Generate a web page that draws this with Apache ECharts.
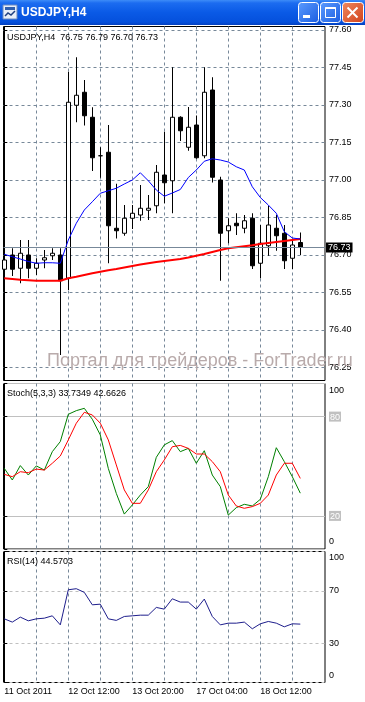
<!DOCTYPE html>
<html><head><meta charset="utf-8">
<script src="https://cdn.jsdelivr.net/npm/echarts@6/dist/echarts.min.js"></script>
<style>html,body{margin:0;padding:0;background:#fff;}#c{width:365px;height:702px;}</style>
</head><body><div id="c"></div>
<script>
const categories = ['11 Oct 04:00','11 Oct 08:00','11 Oct 12:00','11 Oct 16:00','11 Oct 20:00','12 Oct 00:00','12 Oct 04:00','12 Oct 08:00',
  '12 Oct 12:00','12 Oct 16:00','12 Oct 20:00','13 Oct 00:00','13 Oct 04:00','13 Oct 08:00','13 Oct 12:00','13 Oct 16:00',
  '13 Oct 20:00','14 Oct 00:00','14 Oct 04:00','14 Oct 08:00','14 Oct 12:00','14 Oct 16:00','14 Oct 20:00','17 Oct 00:00',
  '17 Oct 04:00','17 Oct 08:00','17 Oct 12:00','17 Oct 16:00','17 Oct 20:00','18 Oct 00:00','18 Oct 04:00','18 Oct 08:00',
  '18 Oct 12:00','18 Oct 16:00','18 Oct 20:00','19 Oct 00:00','19 Oct 04:00','19 Oct 08:00'];
const openP  = [76.643,76.700,76.647,76.700,76.647,76.680,76.697,76.700,76.607,77.299,77.351,77.251,77.097,77.111,76.807,76.787,
  76.847,76.860,76.879,76.897,77.020,76.997,77.251,77.131,77.220,77.097,77.360,77.000,76.797,76.827,76.807,76.847,
  76.667,76.737,76.807,76.787,76.687,76.75];
const highP  = [76.690,76.727,76.760,76.760,76.687,76.720,76.727,76.727,77.433,77.491,77.400,77.291,77.131,77.220,76.985,76.900,
  76.900,76.980,76.940,77.060,77.193,77.451,77.255,77.292,77.258,77.451,77.411,77.013,76.847,76.867,76.860,76.867,
  76.820,76.897,76.860,76.820,76.760,76.79];
const lowP   = [76.620,76.616,76.587,76.607,76.620,76.647,76.680,76.300,76.560,77.231,77.218,77.036,77.009,76.667,76.766,76.777,
  76.804,76.837,76.840,76.867,76.907,76.867,77.156,77.117,77.085,77.087,76.990,76.597,76.747,76.780,76.787,76.644,
  76.607,76.697,76.717,76.644,76.644,76.70];
const closeP = [76.680,76.643,76.707,76.647,76.667,76.689,76.707,76.597,77.311,77.339,77.257,77.089,77.097,76.817,76.797,76.847,
  76.867,76.887,76.887,77.031,76.989,77.251,77.197,77.211,77.089,77.351,77.011,76.787,76.817,76.817,76.837,76.657,
  76.747,76.820,76.777,76.677,76.740,76.73];
const maFast = [76.703,76.693,76.684,76.674,76.667,76.669,76.669,76.667,76.760,76.827,76.880,76.913,76.947,76.957,76.967,76.984,
  77.000,77.029,76.997,76.960,76.935,76.948,76.962,77.010,77.040,77.075,77.085,77.080,77.072,77.053,77.040,76.973,
  76.930,76.900,76.867,76.793,76.768,76.764];
const maSlow = [76.607,76.604,76.601,76.599,76.597,76.597,76.597,76.597,76.607,76.613,76.620,76.627,76.633,76.639,76.644,76.650,
  76.656,76.662,76.667,76.672,76.676,76.680,76.684,76.690,76.697,76.704,76.712,76.720,76.727,76.731,76.735,76.739,
  76.744,76.748,76.752,76.756,76.760,76.764];
const stochMain = [48.7,41.7,50.4,44.7,50.2,47.7,58.8,64.9,81.4,83.6,85.0,78.4,68.9,48.7,33.6,21.1,
  26.6,32.6,37.7,55.4,62.9,65.5,58.8,60.8,51.8,59.4,44.7,37.7,20.5,25.0,27.0,26.0,
  30.0,43.7,61.2,52.8,43.7,33.7349];
const stochSignal = [45.1,43.7,46.7,46.1,48.3,47.7,51.8,56.2,65.9,76.0,82.6,81.0,76.0,65.9,50.8,35.7,
  27.6,27.6,35.7,46.7,53.8,61.8,62.6,60.8,57.4,57.4,52.8,46.7,32.6,26.0,24.6,25.6,
  27.6,32.6,44.7,51.8,51.8,42.6626];
const rsi = [48.6,46.1,49.9,47.1,48.6,49.1,50.9,44.0,70.8,71.6,68.8,59.3,59.8,48.6,47.4,50.4,
  50.9,51.4,51.4,57.3,56.0,63.9,61.4,61.4,56.0,63.7,50.4,44.0,45.3,45.3,46.1,41.0,
  44.8,46.6,45.3,42.5,44.8,44.5703];
const priceTicks = [76.25,76.40,76.55,76.70,76.85,77.00,77.15,77.30,77.45,77.60];
const timeTickIndex = [0,8,16,24,32];
const timeTickLabels = ['11 Oct 2011','12 Oct 12:00','13 Oct 20:00','17 Oct 04:00','18 Oct 12:00'];
const vGridIndex = [4,8,12,16,20,24,28,32,36];
const stochTicks = [0,20,80,100];
const rsiTicks = [0,30,70,100];
const lastPrice = 76.73;
const symbolTitle = 'USDJPY,H4';
const priceHeader = 'USDJPY,H4  76.75 76.79 76.70 76.73';
const stochHeader = 'Stoch(5,3,3) 33.7349 42.6626';
const rsiHeader = 'RSI(14) 44.5703';
const watermark = 'Портал для трейдеров - ForTrader.ru';

const FONT = '"Liberation Sans", Arial, sans-serif';
const GRIDC = '#778899';
const xMin = -0.1, xMax = 40.0875;

function xAxisFor(gi, showLabels) {
  return {
    type: 'value', gridIndex: gi, min: xMin, max: xMax,
    axisLine: {show: false},
    axisTick: {show: false, customValues: vGridIndex},
    splitLine: {show: true, lineStyle: {color: GRIDC, width: 1, type: [3, 3]}},
    axisLabel: {
      show: showLabels, customValues: timeTickIndex, align: 'left', margin: 5,
      fontFamily: FONT, fontSize: 9, color: '#000',
      formatter: v => timeTickLabels[timeTickIndex.indexOf(Math.round(v))]
    }
  };
}
const edgeRich = {
  lv: {backgroundColor: '#C0C0C0', color: '#fff', fontFamily: FONT, fontSize: 9, padding: [1, 1, 0, 1]}
};
function levelFormatter(withBg) {
  return v => {
    if (v === 100) return '\n100';
    if (v === 0) return '0\n';
    return withBg ? '{lv|' + v + '}' : String(v);
  };
}

const chart = echarts.init(document.getElementById('c'), null, {renderer: 'canvas', width: 365, height: 702});
const option = {
  animation: false,
  backgroundColor: '#fff',
  textStyle: {fontFamily: FONT},
  grid: [
    {left: 3.5, top: 26.5, width: 321.5, height: 354, show: true, backgroundColor: '#fff', borderColor: '#000', borderWidth: 1},
    {left: 3.5, top: 383.5, width: 321.5, height: 165.5, show: true, backgroundColor: '#fff', borderColor: '#000', borderWidth: 1},
    {left: 3.5, top: 551.5, width: 321.5, height: 131, show: true, backgroundColor: '#fff', borderColor: '#000', borderWidth: 1}
  ],
  xAxis: [xAxisFor(0, false), xAxisFor(1, false), xAxisFor(2, true)],
  yAxis: [
    {
      type: 'value', gridIndex: 0, position: 'right', min: 76.198, max: 77.614,
      axisLine: {show: true, lineStyle: {color: '#000'}},
      axisTick: {show: true, length: 3, customValues: priceTicks, lineStyle: {color: '#000'}},
      axisLabel: {customValues: priceTicks, margin: 4, fontFamily: FONT, fontSize: 9, color: '#000', formatter: v => v.toFixed(2)},
      splitLine: {show: true, lineStyle: {color: GRIDC, width: 1, type: [3, 3]}}
    },
    {
      type: 'value', gridIndex: 1, position: 'right', min: 0, max: 100,
      axisLine: {show: true, lineStyle: {color: '#000'}},
      axisTick: {show: true, length: 3, customValues: stochTicks, lineStyle: {color: '#000'}},
      axisLabel: {customValues: stochTicks, margin: 4, fontFamily: FONT, fontSize: 9, color: '#000', lineHeight: 14,
        formatter: levelFormatter(true), rich: edgeRich},
      splitLine: {show: true, lineStyle: {color: '#C0C0C0', width: 1, type: 'solid'}}
    },
    {
      type: 'value', gridIndex: 2, position: 'right', min: 0, max: 100,
      axisLine: {show: true, lineStyle: {color: '#000'}},
      axisTick: {show: true, length: 3, customValues: rsiTicks, lineStyle: {color: '#000'}},
      axisLabel: {customValues: rsiTicks, margin: 4, fontFamily: FONT, fontSize: 9, color: '#000', lineHeight: 13,
        formatter: levelFormatter(false)},
      splitLine: {show: true, lineStyle: {color: '#C0C0C0', width: 1, type: [3, 3]}}
    }
  ],
  series: [
    {
      type: 'candlestick', xAxisIndex: 0, yAxisIndex: 0, barWidth: 4, clip: true,
      data: categories.map((c, i) => [i, openP[i], closeP[i], lowP[i], highP[i]]),
      encode: {x: 0, y: [1, 2, 3, 4]},
      itemStyle: {color: '#fff', color0: '#000', borderColor: '#000', borderColor0: '#000', borderWidth: 1},
      markLine: {
        silent: true, symbol: ['none', 'none'], animation: false,
        lineStyle: {color: '#778899', width: 1, type: 'solid'},
        label: {show: true, position: 'end', distance: 1, formatter: lastPrice.toFixed(2), backgroundColor: '#000',
          color: '#fff', fontFamily: FONT, fontSize: 9, padding: [1, 2, 0, 2]},
        data: [{yAxis: lastPrice}]
      }
    },
    {
      type: 'line', xAxisIndex: 0, yAxisIndex: 0, showSymbol: false, z: 3,
      data: maSlow.map((v, i) => [i, v]), lineStyle: {color: '#FF0000', width: 2}
    },
    {
      type: 'line', xAxisIndex: 0, yAxisIndex: 0, showSymbol: false, z: 4,
      data: maFast.map((v, i) => [i, v]), lineStyle: {color: '#0000FF', width: 1}
    },
    {
      type: 'line', xAxisIndex: 1, yAxisIndex: 1, showSymbol: false,
      data: stochMain.map((v, i) => [i, v]), lineStyle: {color: '#008000', width: 1}
    },
    {
      type: 'line', xAxisIndex: 1, yAxisIndex: 1, showSymbol: false,
      data: stochSignal.map((v, i) => [i, v]), lineStyle: {color: '#FF0000', width: 1}
    },
    {
      type: 'line', xAxisIndex: 2, yAxisIndex: 2, showSymbol: false,
      data: rsi.map((v, i) => [i, v]), lineStyle: {color: '#1E1E8C', width: 1}
    }
  ],
  graphic: [
    {type: 'rect', z: 100, shape: {x: 0, y: 0, width: 365, height: 25},
      style: {fill: {type: 'linear', x: 0, y: 0, x2: 0, y2: 1, colorStops: [
        {offset: 0, color: '#3D8CF8'}, {offset: 0.12, color: '#1C6CF0'}, {offset: 0.5, color: '#0A5AE6'},
        {offset: 0.88, color: '#0550DC'}, {offset: 1, color: '#0340C0'}]}}},
    {type: 'rect', z: 101, shape: {x: 3, y: 5, width: 14, height: 14}, style: {fill: '#E8EEF8', stroke: '#6A8AC0', lineWidth: 1}},
    {type: 'rect', z: 102, shape: {x: 5, y: 7, width: 10, height: 3}, style: {fill: '#3060B0'}},
    {type: 'polyline', z: 102, shape: {points: [[5, 16], [8, 13], [11, 15], [15, 11]]}, style: {stroke: '#204080', lineWidth: 1.5, fill: null}},
    {type: 'text', z: 101, x: 21, y: 13, style: {text: symbolTitle, fill: '#fff', font: 'bold 12px ' + FONT, verticalAlign: 'middle',
      shadowColor: 'rgba(0,0,40,0.6)', shadowOffsetX: 1, shadowOffsetY: 1}},
    {type: 'rect', z: 101, shape: {x: 298.5, y: 2.5, width: 20, height: 20, r: 3},
      style: {fill: {type: 'linear', x: 0, y: 0, x2: 1, y2: 1, colorStops: [{offset: 0, color: '#5C9CFF'}, {offset: 1, color: '#1A5CE0'}]}, stroke: '#fff', lineWidth: 1}},
    {type: 'rect', z: 102, shape: {x: 303, y: 15, width: 7, height: 3}, style: {fill: '#fff'}},
    {type: 'rect', z: 101, shape: {x: 320.5, y: 2.5, width: 20, height: 20, r: 3},
      style: {fill: {type: 'linear', x: 0, y: 0, x2: 1, y2: 1, colorStops: [{offset: 0, color: '#5C9CFF'}, {offset: 1, color: '#1A5CE0'}]}, stroke: '#fff', lineWidth: 1}},
    {type: 'rect', z: 102, shape: {x: 325.5, y: 7.5, width: 10, height: 10}, style: {fill: null, stroke: '#fff', lineWidth: 1}},
    {type: 'rect', z: 102, shape: {x: 325.5, y: 7, width: 10, height: 2}, style: {fill: '#fff'}},
    {type: 'rect', z: 101, shape: {x: 342.5, y: 2.5, width: 21, height: 20, r: 3},
      style: {fill: {type: 'linear', x: 0, y: 0, x2: 1, y2: 1, colorStops: [{offset: 0, color: '#F08A60'}, {offset: 1, color: '#D0401A'}]}, stroke: '#fff', lineWidth: 1}},
    {type: 'polyline', z: 102, shape: {points: [[347.5, 7.5], [357.5, 17.5]]}, style: {stroke: '#fff', lineWidth: 2}},
    {type: 'polyline', z: 102, shape: {points: [[357.5, 7.5], [347.5, 17.5]]}, style: {stroke: '#fff', lineWidth: 2}},
    {type: 'text', z: 50, x: 7, y: 37.5, style: {text: priceHeader, fill: '#000', font: '9px ' + FONT, verticalAlign: 'middle'}},
    {type: 'text', z: 50, x: 7, y: 393.7, style: {text: stochHeader, fill: '#000', font: '9px ' + FONT, verticalAlign: 'middle'}},
    {type: 'text', z: 50, x: 7, y: 561.3, style: {text: rsiHeader, fill: '#000', font: '9px ' + FONT, verticalAlign: 'middle'}},
    {type: 'text', z: 60, x: 47, y: 360.7, style: {text: watermark, fill: '#B9ABAB', font: '18px ' + FONT, verticalAlign: 'middle'}}
  ]
};
chart.setOption(option);
</script></body></html>
